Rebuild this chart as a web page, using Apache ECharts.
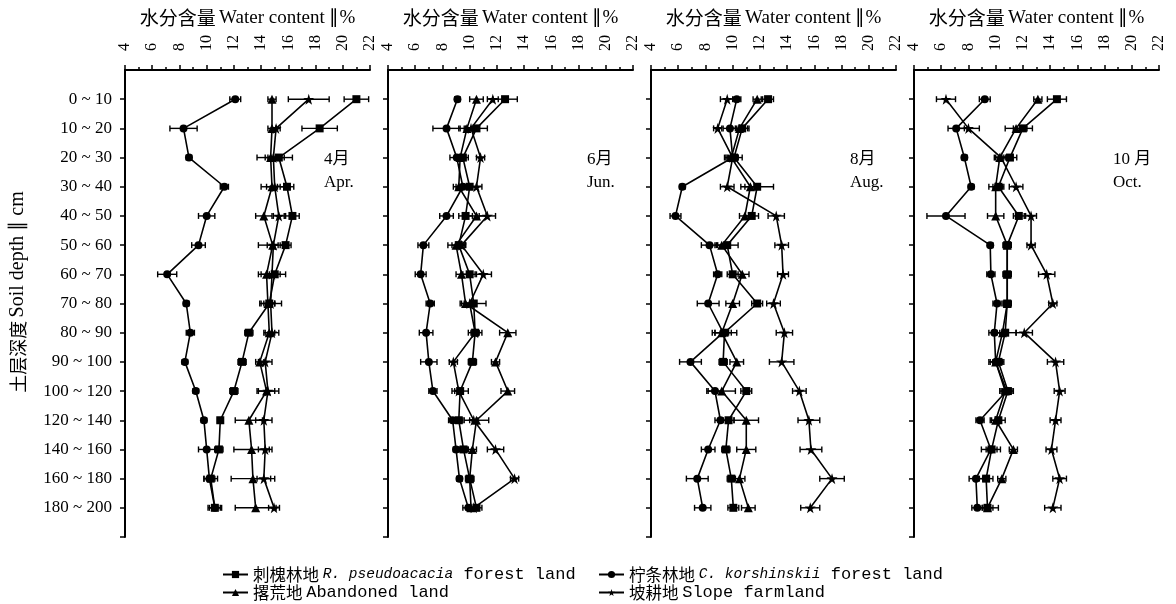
<!DOCTYPE html>
<html>
<head>
<meta charset="utf-8">
<script src="https://cdn.jsdelivr.net/npm/echarts@6/dist/echarts.min.js"></script>
<style>
  html, body { margin: 0; padding: 0; background: #fff; }
  #main { width: 1176px; height: 604px; }
</style>
</head>
<body>
<div id="main"></div>
<script>
// Soil depth layers (cm), top to bottom
const depthLabels = ['0 ~ 10', '10 ~ 20', '20 ~ 30', '30 ~ 40', '40 ~ 50', '50 ~ 60', '60 ~ 70',
  '70 ~ 80', '80 ~ 90', '90 ~ 100', '100 ~ 120', '120 ~ 140', '140 ~ 160', '160 ~ 180', '180 ~ 200'];

const seriesNames = ['刺槐林地', '柠条林地', '撂荒地', '坡耕地'];
const monthCn = ['4月', '6月', '8月', '10 月'];
const monthEn = ['Apr.', 'Jun.', 'Aug.', 'Oct.'];

// Water content (%) and standard deviation, April
const rpApr   = [21.0, 18.3, 15.3, 15.9, 16.3, 15.8, 15.0, 14.6, 13.1, 12.6, 12.0, 11.0, 10.9, 10.3, 10.6];
const rpAprSd = [0.9, 1.3, 1.0, 0.5, 0.5, 0.4, 0.4, 0.4, 0.3, 0.3, 0.3, 0.2, 0.3, 0.5, 0.5];
const ckApr   = [12.1, 8.3, 8.7, 11.3, 10.0, 9.4, 7.1, 8.5, 8.8, 8.4, 9.2, 9.8, 10.0, 10.2, 10.6];
const ckAprSd = [0.4, 1.0, 0.2, 0.3, 0.6, 0.5, 0.7, 0.2, 0.3, 0.2, 0.2, 0.2, 0.6, 0.4, 0.4];
const abApr   = [14.8, 14.8, 14.7, 14.8, 14.2, 14.85, 14.4, 14.5, 14.6, 13.9, 14.4, 13.1, 13.3, 13.4, 13.6];
const abAprSd = [0.3, 0.3, 1.0, 0.4, 0.6, 0.4, 0.4, 0.5, 0.4, 0.3, 0.6, 1.0, 1.3, 1.6, 1.5];
const sfApr   = [17.5, 15.1, 14.9, 15.0, 15.3, 14.9, 14.8, 14.7, 14.8, 14.3, 14.5, 14.2, 14.3, 14.2, 14.95];
const sfAprSd = [1.5, 0.3, 0.4, 1.0, 0.4, 1.1, 1.0, 0.8, 0.5, 0.5, 0.8, 0.6, 0.5, 0.5, 0.4];

// June
const rpJun   = [12.6, 10.5, 9.5, 10.0, 9.7, 9.2, 10.0, 10.3, 10.4, 10.2, 9.3, 9.2, 9.55, 10.0, 10.5];
const rpJunSd = [0.9, 0.8, 0.4, 0.5, 0.5, 0.5, 0.5, 0.9, 0.5, 0.3, 0.6, 0.3, 0.3, 0.3, 0.4];
const ckJun   = [9.1, 8.3, 9.05, 9.5, 8.3, 6.6, 6.4, 7.1, 6.8, 7.0, 7.3, 8.75, 9.0, 9.25, 9.9];
const ckJunSd = [0.2, 1.0, 0.5, 0.5, 0.5, 0.4, 0.4, 0.3, 0.5, 0.6, 0.3, 0.3, 0.2, 0.2, 0.4];
const abJun   = [10.5, 9.8, 9.3, 9.2, 10.5, 9.0, 9.4, 9.7, 12.8, 11.9, 12.8, 10.5, 10.2, 10.0, 10.1];
const abJunSd = [0.5, 0.6, 0.4, 0.4, 0.7, 0.6, 0.4, 0.4, 0.6, 0.3, 0.5, 0.9, 0.3, 0.3, 0.3];
const sfJun   = [11.7, 10.1, 10.8, 10.5, 11.3, 9.4, 11.0, 10.0, 10.4, 8.8, 9.2, 10.3, 11.9, 13.3, 10.3];
const sfJunSd = [0.4, 0.5, 0.3, 0.4, 0.6, 0.3, 0.6, 0.4, 0.3, 0.3, 0.3, 0.3, 0.6, 0.3, 0.4];

// August
const rpAug   = [12.6, 10.7, 10.1, 11.8, 11.4, 9.6, 10.0, 11.8, 9.4, 9.3, 11.0, 9.7, 9.5, 9.9, 10.05];
const rpAugSd = [0.4, 0.5, 0.6, 1.2, 0.5, 0.8, 0.4, 0.4, 0.9, 0.3, 0.4, 0.4, 0.3, 0.3, 0.4];
const ckAug   = [10.3, 9.8, 10.0, 6.3, 5.8, 8.3, 8.9, 8.2, 9.3, 6.9, 8.7, 9.1, 8.2, 7.4, 7.8];
const ckAugSd = [0.3, 0.5, 0.4, 0.2, 0.4, 0.6, 0.3, 0.8, 0.6, 0.8, 0.6, 0.4, 0.5, 0.8, 0.6];
const abAug   = [11.8, 10.5, 9.9, 11.3, 10.9, 9.2, 10.7, 10.0, 9.2, 10.3, 9.2, 11.0, 11.0, 10.5, 11.15];
const abAugSd = [0.3, 0.6, 0.5, 0.4, 0.4, 0.5, 0.5, 0.5, 0.5, 0.5, 1.0, 0.9, 0.7, 0.4, 0.5];
const sfAug   = [9.6, 8.9, 10.0, 9.6, 13.2, 13.6, 13.7, 13.0, 13.8, 13.6, 14.9, 15.6, 15.75, 17.3, 15.7];
const sfAugSd = [0.5, 0.3, 0.3, 0.5, 0.6, 0.5, 0.4, 0.5, 0.6, 0.9, 0.5, 0.8, 0.8, 0.9, 0.7];

// October
const rpOct   = [14.5, 12.0, 11.05, 10.2, 11.7, 10.85, 10.85, 10.85, 10.7, 10.2, 10.9, 10.2, 9.7, 9.3, 9.4];
const rpOctSd = [0.7, 0.7, 0.5, 0.4, 0.4, 0.3, 0.3, 0.3, 0.8, 0.4, 0.4, 0.5, 0.4, 0.5, 0.8];
const ckOct   = [9.2, 7.1, 7.7, 8.2, 6.35, 9.6, 9.65, 10.1, 9.9, 10.0, 10.8, 8.85, 9.65, 8.55, 8.65];
const ckOctSd = [0.4, 0.6, 0.2, 0.2, 1.4, 0.2, 0.3, 0.3, 0.4, 0.4, 0.4, 0.3, 0.7, 0.5, 0.4];
const abOct   = [13.1, 11.5, 10.3, 10.0, 10.0, 10.85, 10.85, 10.85, 10.5, 10.0, 10.7, 10.0, 11.3, 10.45, 9.4];
const abOctSd = [0.3, 0.8, 0.4, 0.5, 0.6, 0.3, 0.3, 0.3, 0.4, 0.5, 0.4, 0.4, 0.3, 0.3, 0.4];
const sfOct   = [6.35, 8.0, 10.4, 11.5, 12.6, 12.6, 13.75, 14.2, 12.1, 14.4, 14.7, 14.4, 14.1, 14.7, 14.2];
const sfOctSd = [0.7, 0.8, 0.4, 0.5, 0.4, 0.3, 0.6, 0.3, 0.6, 0.6, 0.4, 0.4, 0.4, 0.5, 0.6];

const panelValues = [
  [rpApr, ckApr, abApr, sfApr],
  [rpJun, ckJun, abJun, sfJun],
  [rpAug, ckAug, abAug, sfAug],
  [rpOct, ckOct, abOct, sfOct]
];
const panelSd = [
  [rpAprSd, ckAprSd, abAprSd, sfAprSd],
  [rpJunSd, ckJunSd, abJunSd, sfJunSd],
  [rpAugSd, ckAugSd, abAugSd, sfAugSd],
  [rpOctSd, ckOctSd, abOctSd, sfOctSd]
];

const STAR = 'path://M50,0 L61,35 L98,35 L68,57 L79,91 L50,70 L21,91 L32,57 L2,35 L39,35 Z';
const symbols = ['rect', 'circle', 'triangle', STAR];
const symbolSizes = [8, 8, 9, 11];

const PANEL_LEFT = 125, PANEL_STEP = 263, PANEL_W = 245, PANEL_TOP = 70, PANEL_H = 467;
const CJK = '"Noto Sans CJK SC"';

const chart = echarts.init(document.getElementById('main'));

// Horizontal error bar with end caps
function renderSd(params, api) {
  const v = api.value(0), d = api.value(1), e = api.value(2);
  const lo = api.coord([v - e, d]);
  const hi = api.coord([v + e, d]);
  const h = 3;
  const st = { stroke: '#000', lineWidth: 1.4 };
  return {
    type: 'group',
    children: [
      { type: 'line', shape: { x1: lo[0], y1: lo[1], x2: hi[0], y2: hi[1] }, style: st },
      { type: 'line', shape: { x1: lo[0], y1: lo[1] - h, x2: lo[0], y2: lo[1] + h }, style: st },
      { type: 'line', shape: { x1: hi[0], y1: hi[1] - h, x2: hi[0], y2: hi[1] + h }, style: st }
    ]
  };
}

const grids = [], xAxes = [], yAxes = [], series = [], graphics = [];

for (let p = 0; p < 4; p++) {
  const left = PANEL_LEFT + PANEL_STEP * p;
  grids.push({ left: left, top: PANEL_TOP, width: PANEL_W, height: PANEL_H });
  xAxes.push({
    gridIndex: p, type: 'value', position: 'top', min: 4, max: 22, interval: 2,
    name: '{cn|水分含量} {en|Water content ∥%}',
    nameLocation: 'middle', nameGap: 30,
    nameTextStyle: {
      rich: {
        cn: { fontFamily: CJK, fontSize: 19, color: '#000' },
        en: { fontFamily: 'Liberation Serif', fontSize: 19, color: '#000' }
      }
    },
    axisLine: { show: true, onZero: false, lineStyle: { color: '#000', width: 2 } },
    axisTick: { show: true, length: 5, lineStyle: { color: '#000', width: 1.5 } },
    minorTick: { show: true, splitNumber: 2, length: 3, lineStyle: { color: '#000', width: 1.5 } },
    splitLine: { show: false },
    axisLabel: { rotate: -90, margin: 19, fontFamily: 'Liberation Serif', fontSize: 16, color: '#000' }
  });
  yAxes.push({
    gridIndex: p, type: 'value', inverse: true, min: -1, max: 15, interval: 1,
    axisLine: { show: true, onZero: false, lineStyle: { color: '#000', width: 2 } },
    axisTick: { show: true, length: 5, customValues: depthLabels.map((_, i) => i).concat([15]), lineStyle: { color: '#000', width: 1.5 } },
    splitLine: { show: false },
    axisLabel: {
      show: p === 0, margin: 13, fontFamily: 'Liberation Serif', fontSize: 17, color: '#000',
      customValues: depthLabels.map((_, i) => i),
      formatter: v => depthLabels[v] !== undefined ? depthLabels[v] : ''
    }
  });

  for (let s = 0; s < 4; s++) {
    const vals = panelValues[p][s];
    const sd = panelSd[p][s];
    series.push({
      name: seriesNames[s] + ' SD', type: 'custom', xAxisIndex: p, yAxisIndex: p,
      renderItem: renderSd, silent: true, z: 2,
      encode: { x: 0, y: 1 },
      data: vals.map((v, i) => [v, i, sd[i]])
    });
    series.push({
      name: seriesNames[s], type: 'line', xAxisIndex: p, yAxisIndex: p,
      symbol: symbols[s], symbolSize: symbolSizes[s], showAllSymbol: true,
      lineStyle: { color: '#000', width: 1.6 },
      itemStyle: { color: '#000' },
      z: 3,
      data: vals.map((v, i) => [v, i])
    });
  }

  graphics.push({
    type: 'text', left: left + 199, top: 148,
    style: {
      text: monthCn[p] + '\n' + monthEn[p],
      font: '17px "Liberation Serif", ' + CJK,
      lineHeight: 23, fill: '#000'
    }
  });
}

// Vertical title of the depth axis
graphics.push({
  type: 'text', x: 18, y: 292, rotation: Math.PI / 2,
  style: {
    text: '{cn|土层深度} {en|Soil depth ∥ cm}',
    align: 'center', verticalAlign: 'middle',
    rich: {
      cn: { fontFamily: CJK, fontSize: 18, fill: '#000' },
      en: { fontFamily: 'Liberation Serif', fontSize: 20, fill: '#000' }
    }
  }
});

const legendText = {
  '刺槐林地': '{cn|刺槐林地 }{it|R. pseudoacacia}{en| forest land}',
  '柠条林地': '{cn|柠条林地 }{it|C. korshinskii}{en| forest land}',
  '撂荒地': '{cn|撂荒地 }{en|Abandoned land}',
  '坡耕地': '{cn|坡耕地 }{en|Slope farmland}'
};
const legendRich = {
  cn: { fontFamily: CJK, fontSize: 16.5, color: '#000' },
  it: { fontFamily: 'Liberation Mono', fontStyle: 'italic', fontSize: 14.5, color: '#000' },
  en: { fontFamily: 'Liberation Mono', fontSize: 17, color: '#000' }
};
const legendPos = [[222, 566], [598, 566], [222, 584], [598, 584]];
const legends = seriesNames.map((n, i) => ({
  data: [n], left: legendPos[i][0], top: legendPos[i][1], padding: 0,
  itemWidth: 25, itemHeight: 9, itemGap: 4,
  formatter: name => legendText[name],
  textStyle: { rich: legendRich }
}));

chart.setOption({
  animation: false,
  backgroundColor: '#fff',
  grid: grids,
  xAxis: xAxes,
  yAxis: yAxes,
  legend: legends,
  series: series,
  graphic: graphics
});
</script>
</body>
</html>
